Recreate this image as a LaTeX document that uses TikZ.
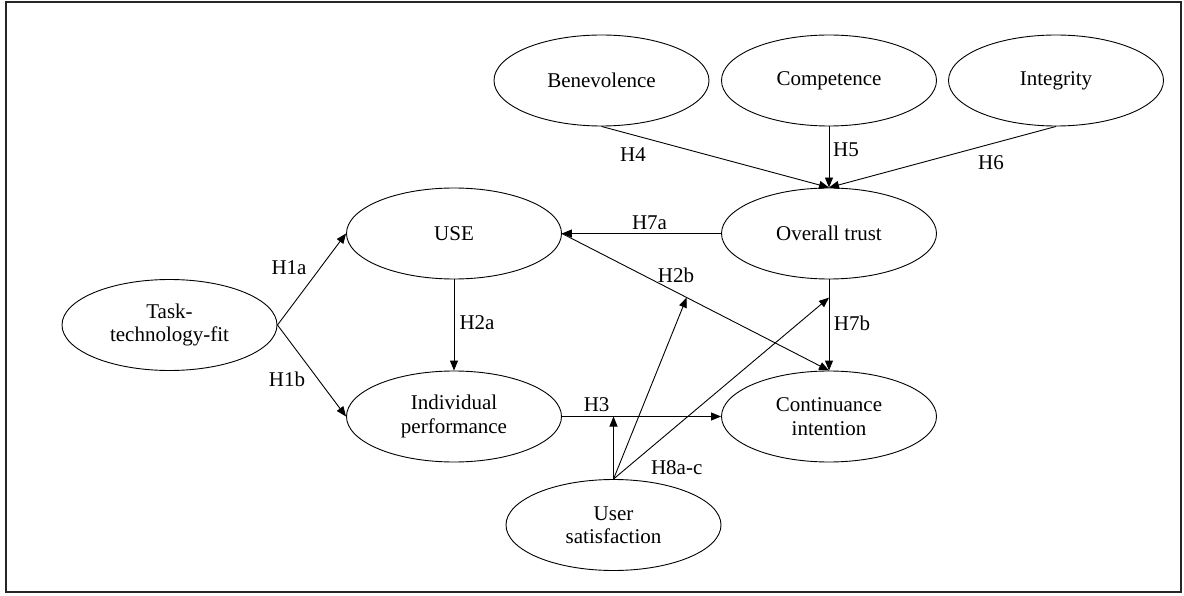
\documentclass[tikz,border=0pt]{standalone}
\usepackage{fontspec}
\setmainfont{Liberation Serif}
\newfontfamily\tnrfont{Liberation Serif}
\usetikzlibrary{shapes.geometric,arrows.meta,calc}
\begin{document}
\begin{tikzpicture}[x=1pt,y=-1pt,
  ell/.style={draw, ellipse, minimum width=215pt, minimum height=91pt, inner sep=0pt, align=center, font=\tnrfont\fontsize{21}{23.3}\selectfont, line width=0.9pt},
  lab/.style={font=\tnrfont\fontsize{21}{23.3}\selectfont, inner sep=0pt},
  arr/.style={-{Triangle[length=10pt,width=8pt]}, line width=0.9pt}]
\useasboundingbox (0,0) rectangle (1184,596);
\draw[line width=2pt, black!85] (6,2) rectangle (1181,592);

\node[ell] (ben) at (601.5,80.5) {Benevolence};
\node[ell] (com) at (829,80.5) {Competence};
\node[ell] (int) at (1056,80.5) {Integrity};
\node[ell] (use) at (454,233.5) {USE};
\node[ell] (ot) at (829,233.5) {Overall trust};
\node[ell] (ttf) at (169.5,325) {Task-\\technology-fit};
\node[ell] (ip) at (454,416.5) {Individual\\performance};
\node[ell] (ci) at (829,416.5) {Continuance\\intention};
\node[ell] (us) at (613.5,525) {User\\satisfaction};

\draw[arr] (ben.south) -- (ot.north);
\draw[arr] (com.south) -- (ot.north);
\draw[arr] (int.south) -- (ot.north);
\draw[arr] (ot.west) -- (use.east);
\draw[arr] (use.east) -- (ci.north);
\draw[arr] (ot.south) -- (ci.north);
\draw[arr] (ttf.east) -- (use.west);
\draw[arr] (ttf.east) -- (ip.west);
\draw[arr] (use.south) -- (ip.north);
\draw[arr] (ip.east) -- (ci.west);

\coordinate (m3) at (us.north |- ip.east);
\coordinate (m2b) at ($(use.east)!0.467!(ci.north)$);
\coordinate (m7b) at ($(ot.south)!0.2!(ci.north)$);
\draw[arr] (us.north) -- (m3);
\draw[arr] (us.north) -- (m2b);
\draw[arr] (us.north) -- (m7b);

\node[lab] (h4) at (633,155) {H4};
\node[lab] (h5) at (846,150) {H5};
\node[lab] (h6) at (991,163) {H6};
\node[lab] (h7a) at (649.5,223) {H7a};
\node[lab] (h2b) at (676,275) {H2b};
\node[lab] (h7b) at (852,323) {H7b};
\node[lab] (h1a) at (289,268) {H1a};
\node[lab] (h1b) at (287,379) {H1b};
\node[lab] (h2a) at (477,323) {H2a};
\node[lab] (h3) at (596.6,405) {H3};
\node[lab] (h8) at (676.7,468) {H8a-c};
\end{tikzpicture}
\end{document}
